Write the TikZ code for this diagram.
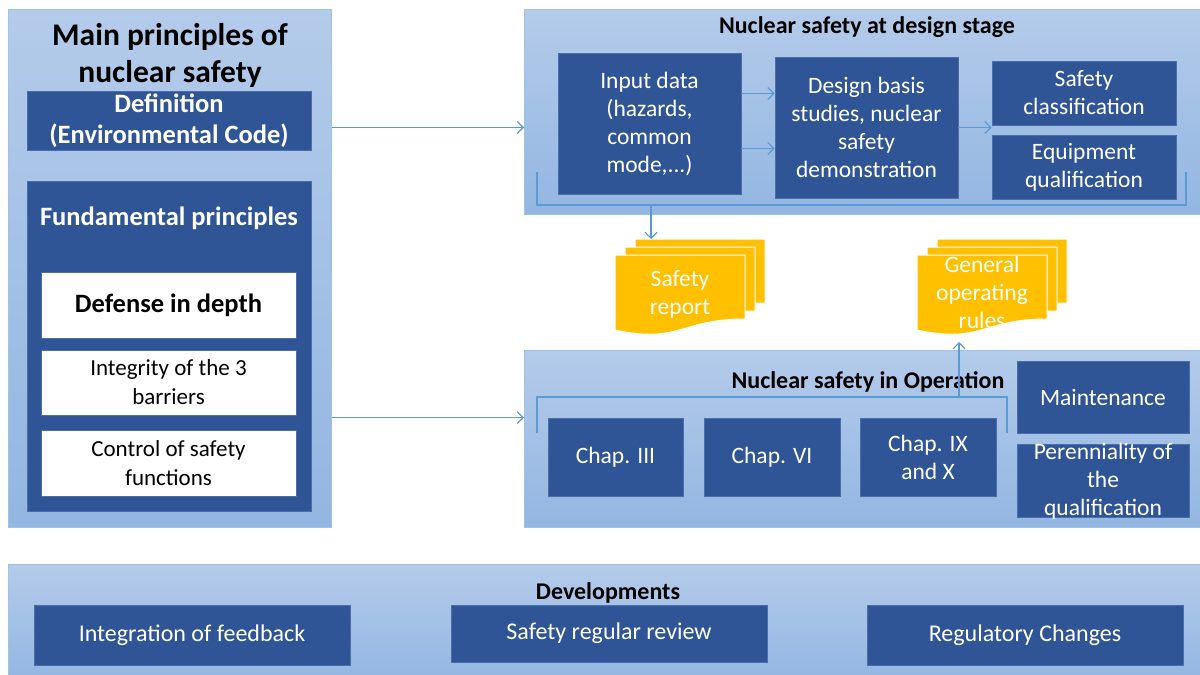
\documentclass[tikz,border=0pt]{standalone}
\usepackage{fontspec}
\setmainfont{Carlito}
\usetikzlibrary{positioning, arrows.meta}

\definecolor{panelTop}{HTML}{B4CBEA}
\definecolor{panelBot}{HTML}{93B6E2}
\definecolor{panelEdge}{HTML}{9DC3E6}
\definecolor{navy}{HTML}{2F5597}
\definecolor{navyEdge}{HTML}{4A6EA9}
\definecolor{gold}{HTML}{FFC000}
\definecolor{flowblue}{HTML}{5B9BD5}

\tikzset{
  panel/.style={draw=panelEdge, line width=1pt, top color=panelTop, bottom color=panelBot,
    inner sep=0pt, anchor=north west},
  navybox/.style={draw=navyEdge, line width=0.8pt, fill=navy, text=white, inner sep=0pt,
    align=center, font=\fontsize{23.5}{28}\selectfont},
  whitebox/.style={draw=navyEdge, line width=0.8pt, fill=white, text=black, inner sep=0pt,
    align=center, font=\fontsize{23}{29}\selectfont},
  heading/.style={font=\bfseries\fontsize{24}{28}\selectfont},
  flow/.style={draw=flowblue, line width=1.2pt, -{Straight Barb[length=6pt,width=12pt]}},
  bracket/.style={draw=flowblue, line width=1.2pt},
  sheet/.style={fill=gold, draw=white, line width=1pt},
  sheettext/.style={text=white, align=center, font=\fontsize{23.5}{28}\selectfont}
}

\begin{document}
\begin{tikzpicture}[x=1pt,y=-1pt]
    \useasboundingbox (0,0) rectangle (1200,675);

    % panels
    \node[panel, minimum width=323, minimum height=518] (lp) at (8,9) {};
    \node[panel, minimum width=680, minimum height=205] (dp) at (524,9) {};
    \node[panel, minimum width=680, minimum height=177] (op) at (524,350) {};
    \node[panel, minimum width=1196, minimum height=116] (bp) at (8,564) {};

    % main principles
    \node[font=\bfseries\fontsize{31.5}{37}\selectfont, align=center] (title) at (170,55)
        {Main principles of\\nuclear safety};
    \node[navybox, font=\bfseries\fontsize{26.5}{31}\selectfont, minimum width=284, minimum height=59]
        (defn) at (169,121) {Definition\\(Environmental Code)};
    \node[navybox, minimum width=284, minimum height=330] (fund) at (169,346) {};
    \node[text=white, font=\bfseries\fontsize{26.5}{30}\selectfont] (fundt) at (169,218)
        {Fundamental principles};
    \node[whitebox, font=\bfseries\fontsize{26.5}{30}\selectfont, minimum width=255, minimum height=66]
        (did) at (168.5,305) {Defense in depth};
    \node[whitebox, minimum width=255, minimum height=65] (barr) at (168.5,382.5)
        {Integrity of the 3\\barriers};
    \node[whitebox, minimum width=255, minimum height=66] (ctrl) at (168.5,463)
        {Control of safety\\functions};

    % design stage
    \node[heading] (dpt) at (867,27) {Nuclear safety at design stage};
    \node[navybox, minimum width=183, minimum height=141] (inp) at (649.5,123.5)
        {Input data\\(hazards,\\common\\mode,...)};
    \node[navybox, minimum width=183, minimum height=141] (des) at (866.5,127.5)
        {Design basis\\studies, nuclear\\safety\\demonstration};
    \node[navybox, minimum width=184, minimum height=64] (cls) at (1084,93)
        {Safety\\classification};
    \node[navybox, minimum width=184, minimum height=64] (equ) at (1084,167)
        {Equipment\\qualification};
    \draw[flow] ([yshift=30pt]inp.east) -- ([yshift=30pt]inp.east -| des.west);
    \draw[flow] ([yshift=-25pt]inp.east) -- ([yshift=-25pt]inp.east -| des.west);
    \draw[flow] (des.east) -- (des.east -| cls.west);
    \draw[bracket] (537,172) -- (537,205) -- (1186,205) -- (1186,172);
    \coordinate (tapD) at (651,205);
    \coordinate (srepTop) at (651,239);

    % documents
    \foreach \dx/\dy in {20/16, 10/8, 0/0} {
        \path[sheet, shift={(615+\dx,255-\dy)}] (0,0) -- (130,0) -- (130,64)
            .. controls (65,64) and (65,89) .. (0,75) -- cycle;
        \path[sheet, shift={(917+\dx,255-\dy)}] (0,0) -- (130,0) -- (130,64)
            .. controls (65,64) and (65,89) .. (0,75) -- cycle;
    }
    \node[sheettext] (srep) at (680,294) {Safety\\report};
    \node[sheettext] (gor) at (982,292) {General\\operating\\rules};
    \coordinate (gorBot) at (959,342);
    \draw[flow] (tapD) -- (srepTop);

    % operation
    \node[heading] (opt) at (868,382) {Nuclear safety in Operation};
    \node[navybox, minimum width=135, minimum height=78] (ch3) at (615.5,457) {Chap. III};
    \node[navybox, minimum width=136, minimum height=78] (ch6) at (772,457) {Chap. VI};
    \node[navybox, minimum width=136, minimum height=78] (ch9) at (928,457) {Chap. IX\\and X};
    \node[navybox, minimum width=172, minimum height=72] (mnt) at (1103,397) {Maintenance};
    \node[navybox, minimum width=172, minimum height=73] (per) at (1103,480.5) {};
    \node[sheettext] (pert) at (1103,481) {Perenniality of\\the\\qualification};
    \draw[bracket] (537,433) -- (537,397) -- (1007,397) -- (1007,433);
    \coordinate (tapO) at (959,397);
    \draw[flow] (tapO) -- (gorBot);

    % links from main principles
    \draw[flow] (lp.east |- des.east) -- (dp.west |- des.east);
    \draw[flow] (lp.east |- ch3.north) -- (op.west |- ch3.north);

    % developments
    \node[heading] (bpt) at (608,593) {Developments};
    \node[navybox, font=\fontsize{24}{28}\selectfont, minimum width=316, minimum height=60]
        (feed) at (192,635) {Integration of feedback};
    \node[navybox, font=\fontsize{24}{28}\selectfont, minimum width=316, minimum height=57]
        (srr) at (609,633.5) {Safety regular review};
    \node[navybox, font=\fontsize{24}{28}\selectfont, minimum width=316, minimum height=60]
        (reg) at (1025,635) {Regulatory Changes};
\end{tikzpicture}
\end{document}
